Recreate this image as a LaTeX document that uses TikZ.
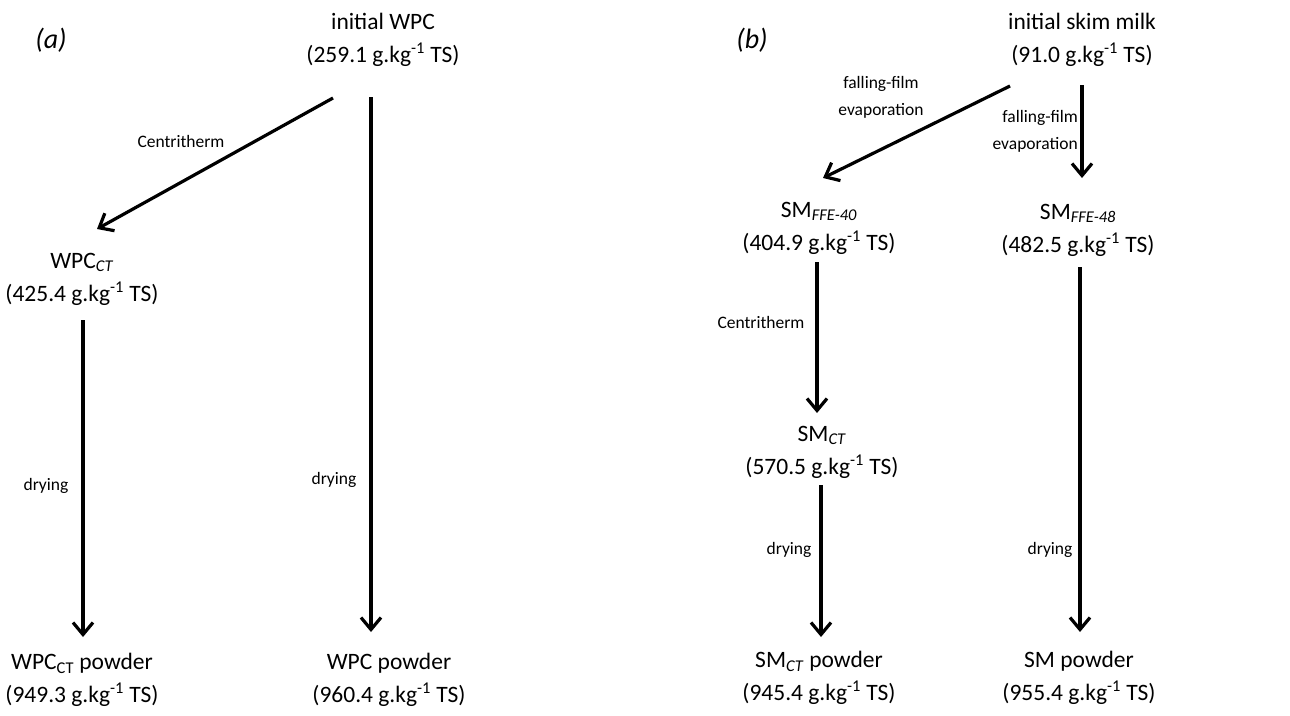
\documentclass[tikz,border=0pt]{standalone}
\usepackage{fontspec}
\setmainfont{Carlito}
\usetikzlibrary{arrows.meta}
\tikzset{
  mainlbl/.style={align=center, inner sep=0pt, font=\fontsize{23.5}{33}\selectfont},
  steplbl/.style={inner sep=0pt, font=\fontsize{17.5}{27}\selectfont},
  panellbl/.style={inner sep=0pt, font=\fontsize{28}{32}\selectfont\itshape},
  flow/.style={line width=3.2pt, -{Straight Barb[length=12pt,width=20pt,line width=3.2pt]}}
}
\newcommand{\gkg}{g.kg\textsuperscript{-1}~TS}
\begin{document}
\begin{tikzpicture}[x=1pt,y=-1pt]
\useasboundingbox[fill=white] (0,0) rectangle (1290,715);
% panel labels
\node[panellbl] (pa) at (51,40) {(a)};
\node[panellbl] (pb) at (752,40) {(b)};
% panel (a)
\node[mainlbl] (iwpc) at (383,40) {initial WPC\\(259.1 \gkg)};
\node[mainlbl] (wpcct) at (82,279) {WPC\textsubscript{\textit{CT}}\\(425.4 \gkg)};
\node[mainlbl] (wpcctpow) at (82,680) {WPC\textsubscript{CT} powder\\(949.3 \gkg)};
\node[mainlbl] (wpcpow) at (389,680) {WPC powder\\(960.4 \gkg)};
% panel (b)
\node[mainlbl] (ism) at (1082,40) {initial skim milk\\(91.0 \gkg)};
\node[mainlbl] (ffe40) at (819,228) {SM\textsubscript{\textit{FFE-40}}\\(404.9 \gkg)};
\node[mainlbl] (ffe48) at (1078,230) {SM\textsubscript{\textit{FFE-48}}\\(482.5 \gkg)};
\node[mainlbl] (smct) at (822,452) {SM\textsubscript{\textit{CT}}\\(570.5 \gkg)};
\node[mainlbl] (smctpow) at (819,678) {SM\textsubscript{\textit{CT}} powder\\(945.4 \gkg)};
\node[mainlbl] (smpow) at (1079,678) {SM powder\\(955.4 \gkg)};
% connectors (a)
\draw[flow] ([shift={(-50,58)}]iwpc.center) -- ([shift={(15,-50)}]wpcct.center);
\draw[flow] ([shift={(-12,57)}]iwpc.center) -- ([shift={(-18,-48)}]wpcpow.center);
\draw[flow] ([shift={(1,41)}]wpcct.center) -- ([shift={(1,-43)}]wpcctpow.center);
% connectors (b)
\draw[flow] ([shift={(-72,46)}]ism.center) -- ([shift={(4,-50)}]ffe40.center);
\draw[flow] ([shift={(0,45)}]ism.center) -- ([shift={(4,-52)}]ffe48.center);
\draw[flow] ([shift={(-2,34)}]ffe40.center) -- ([shift={(-5,-39)}]smct.center);
\draw[flow] ([shift={(-1,33)}]smct.center) -- ([shift={(2,-41)}]smctpow.center);
\draw[flow] ([shift={(2,37)}]ffe48.center) -- ([shift={(1,-46)}]smpow.center);
% step labels
\node[steplbl] (la1) at (181,141) {Centritherm};
\node[steplbl] (la2) at (46,486) {drying};
\node[steplbl] (la3) at (334,480) {drying};
\node[steplbl, align=center] (lb1) at (881,97) {falling-film\\evaporation};
\node[steplbl, align=right, anchor=east] (lb2) at (1078,131) {falling-film\\evaporation};
\node[steplbl] (lb3) at (761,322) {Centritherm};
\node[steplbl] (lb4) at (789,550) {drying};
\node[steplbl] (lb5) at (1050,550) {drying};
\end{tikzpicture}
\end{document}
